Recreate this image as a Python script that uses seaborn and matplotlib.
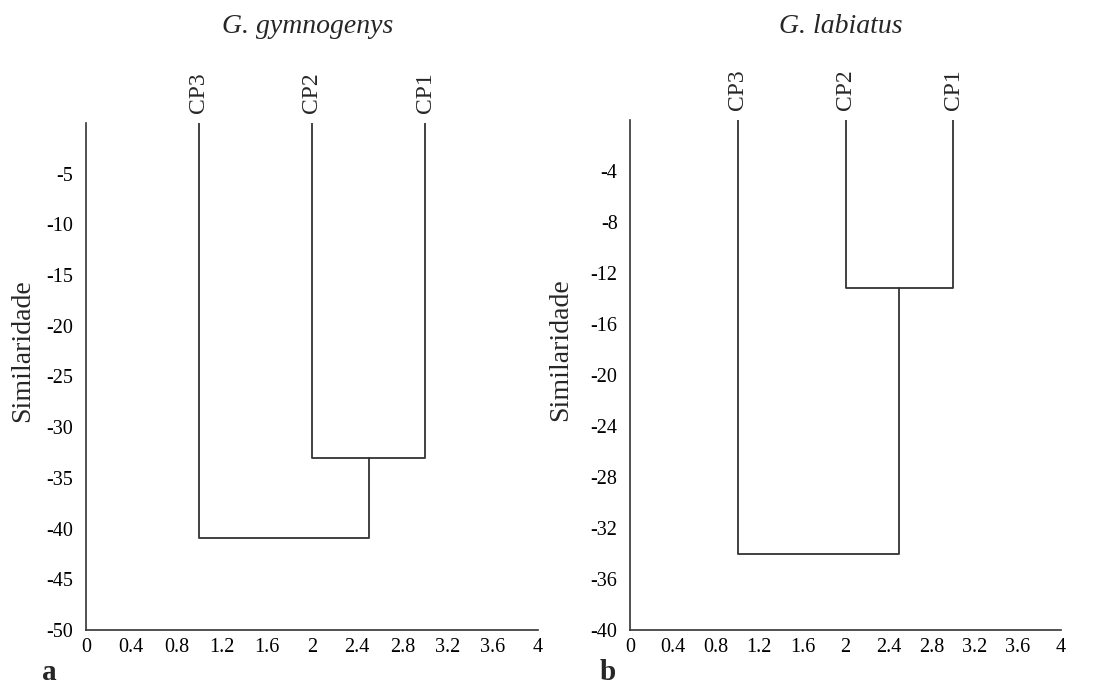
import numpy as np
import pandas as pd
import matplotlib
matplotlib.use("Agg")
import matplotlib.pyplot as plt
import seaborn as sns


# leaves of both dendrograms, left to right
leaf_labels = ["CP3", "CP2", "CP1"]
leaf_x = [1, 2, 3]
leaf_top = 0.0

# merge heights (similarity)
gym_pair = -33.0      # CP2 + CP1
gym_root = -40.9      # (CP2,CP1) + CP3
lab_pair = -13.2
lab_root = -34.0

titles = ["G. gymnogenys", "G. labiatus"]
panel_tags = ["a", "b"]

gym_yticks = [-5, -10, -15, -20, -25, -30, -35, -40, -45, -50]
lab_yticks = [-4, -8, -12, -16, -20, -24, -28, -32, -36, -40]
xticks = [0, 0.4, 0.8, 1.2, 1.6, 2, 2.4, 2.8, 3.2, 3.6, 4]

LINE = "#333333"


def dendro_segments(pair_h, root_h):
    """
    Build the U-shaped links of a three leaf dendrogram.
    """
    x3, x2, x1 = leaf_x
    mid = (x2 + x1) / 2
    rows = []
    # CP2-CP1 link
    for x, y in [(x2, leaf_top), (x2, pair_h), (x1, pair_h), (x1, leaf_top)]:
        rows.append({"seg": 0, "x": x, "y": y})
    # CP3-(CP2,CP1) link
    for x, y in [(x3, leaf_top), (x3, root_h), (mid, root_h), (mid, pair_h)]:
        rows.append({"seg": 1, "x": x, "y": y})
    return pd.DataFrame(rows)


def draw_panel(ax, df, yticks, title, tag, title_x, tag_x, label_x):
    sns.lineplot(
        data=df, x="x", y="y", units="seg", estimator=None, sort=False,
        color=LINE, linewidth=1.3, ax=ax
    )
    ax.set_xlim(0, 4)
    ax.set_ylim(min(yticks), 0)
    ax.set_xticks(xticks)
    ax.set_xticklabels([f"{t:g}" for t in xticks])
    ax.set_yticks(yticks)
    ax.set_yticklabels([f"{t:g}" for t in yticks])
    ax.tick_params(direction="out", length=4, width=1.1, colors=LINE,
                   labelsize=14.5, labelcolor="black")
    ax.tick_params(axis="y", pad=5)
    ax.tick_params(axis="x", pad=2)
    for s in ["top", "right"]:
        ax.spines[s].set_visible(False)
    for s in ["left", "bottom"]:
        ax.spines[s].set_color(LINE)
        ax.spines[s].set_linewidth(1.2)
    ax.set_xlabel("")
    ax.set_ylabel("Similaridade", fontsize=20)
    ax.yaxis.set_label_coords(label_x, 0.55)

    for lab, x in zip(leaf_labels, leaf_x):
        ax.annotate(lab, (x, 0), xytext=(0, 7), textcoords="offset points",
                    rotation=90, ha="center", va="bottom", fontsize=17,
                    annotation_clip=False)

    ax.figure.text(title_x, 0.962, title, ha="center", va="center",
                   fontsize=20, style="italic")
    ax.figure.text(tag_x, 0.003, tag, ha="left", va="bottom",
                   fontsize=21, fontweight="bold")


def main():
    sns.set_theme(style="white")
    plt.rcParams["font.family"] = ["Liberation Serif", "DejaVu Serif"]

    fig = plt.figure(figsize=(10.98, 6.88), dpi=100)
    ax1 = fig.add_axes([0.0783, 0.0843, 0.4117, 0.737])
    ax2 = fig.add_axes([0.5738, 0.0843, 0.3925, 0.741])

    draw_panel(ax1, dendro_segments(gym_pair, gym_root), gym_yticks,
               titles[0], panel_tags[0], 0.280, 0.038, -0.113)
    draw_panel(ax2, dendro_segments(lab_pair, lab_root), lab_yticks,
               titles[1], panel_tags[1], 0.766, 0.546, -0.132)

    fig.savefig("out.png", dpi=100)
    plt.close(fig)


if __name__ == "__main__":
    main()
